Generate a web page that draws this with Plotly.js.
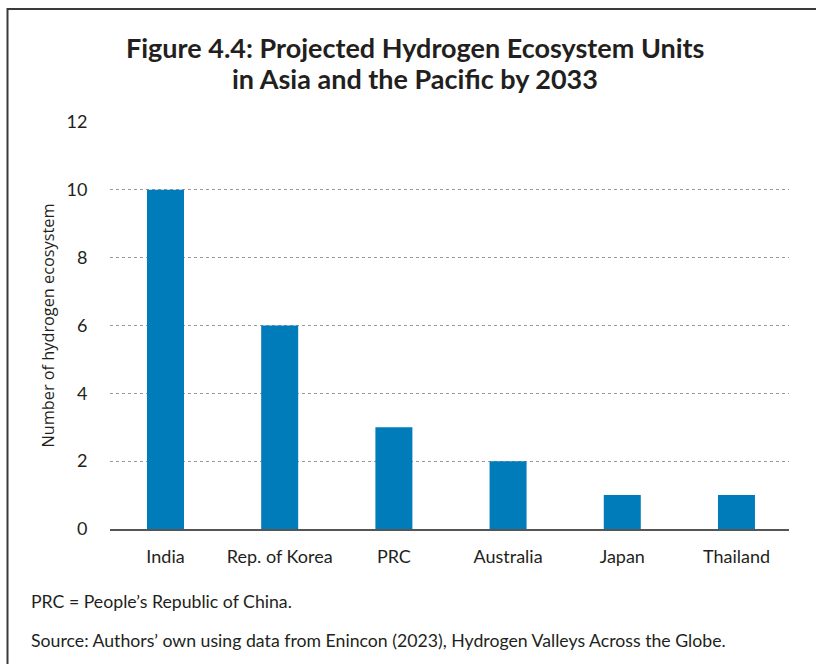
<!DOCTYPE html>
<html>
<head>
<meta charset="utf-8">
<script src="https://cdn.plot.ly/plotly-3.0.1.min.js"></script>
<style>
  html, body { margin: 0; padding: 0; background: #fff; }
  #chart { width: 816px; height: 664px; }
</style>
</head>
<body>
<div id="chart"></div>
<script>
// Projected hydrogen ecosystem units by economy, 2033
const economies = ["India", "Rep. of Korea", "PRC", "Australia", "Japan", "Thailand"];
const ecosystemUnits = [10, 6, 3, 2, 1, 1];
const yTicks = [0, 2, 4, 6, 8, 10, 12];

const titleLines = ["Figure 4.4: Projected Hydrogen Ecosystem Units", "in Asia and the Pacific by 2033"];
const yTitleText = "Number of hydrogen ecosystem";
const noteText = "PRC = People’s Republic of China.";
const sourceText = "Source: Authors’ own using data from Enincon (2023), Hydrogen Valleys Across the Globe.";

// plot area in pixels
const W = 816, H = 664;
const L = 110, R = 789, T = 122, B = 529;
const px = x => (x - L) / (R - L);
const py = y => (B - y) / (B - T);

const FONT = "Lato, 'Open Sans', sans-serif";
const BLUE = "#007cba";
const TEXT = "#231f20";

const trace = {
  type: "bar",
  x: economies,
  y: ecosystemUnits,
  width: 0.324,
  marker: { color: BLUE, line: { width: 0 } },
  hoverinfo: "x+y"
};

const textNote = (text, x, y, opts) => Object.assign({
  text, xref: "paper", yref: "paper",
  x: px(x), y: py(y),
  xanchor: "left", yanchor: "middle",
  showarrow: false,
  font: { family: FONT, size: 17.7, color: TEXT }
}, opts || {});

const layout = {
  width: W,
  height: H,
  margin: { l: L, r: W - R, t: T, b: H - B, pad: 0 },
  paper_bgcolor: "#ffffff",
  plot_bgcolor: "#ffffff",
  showlegend: false,
  font: { family: FONT, color: TEXT, size: 18 },
  xaxis: {
    type: "category",
    range: [-0.486, 5.46],
    showgrid: false,
    showline: true,
    linecolor: "#555555",
    linewidth: 1.5,
    ticks: "outside",
    ticklen: 11,
    tickcolor: "rgba(0,0,0,0)",
    tickfont: { family: FONT, size: 18, color: TEXT },
    fixedrange: true
  },
  yaxis: {
    range: [0, 12],
    tickvals: yTicks,
    ticktext: yTicks.map(String),
    showgrid: true,
    gridcolor: "#9a9a9a",
    griddash: "dot",
    gridwidth: 1,
    zeroline: false,
    showline: false,
    ticks: "outside",
    ticklen: 18,
    tickcolor: "rgba(0,0,0,0)",
    tickfont: { family: FONT, size: 18, color: TEXT },
    fixedrange: true
  },
  annotations: [
    textNote(titleLines[0], 415, 47, { xanchor: "center", font: { family: FONT, size: 27, color: TEXT, weight: 700 } }),
    textNote(titleLines[1], 415, 78, { xanchor: "center", font: { family: FONT, size: 27, color: TEXT, weight: 700 } }),
    textNote(yTitleText, 47, 325.5, {
      xanchor: "center", textangle: -90,
      font: { family: "'Open Sans', sans-serif", size: 16.3, color: TEXT }
    }),
    textNote(noteText, 29, 601),
    textNote(sourceText, 29, 640)
  ],
  shapes: [
    // frame: left and top edges
    {
      type: "path",
      xref: "paper", yref: "paper",
      path: `M ${px(7.5)} ${py(664)} L ${px(7.5)} ${py(9)} L ${px(816)} ${py(9)}`,
      line: { color: "#3a3a3a", width: 2 }
    }
  ]
};

Plotly.newPlot("chart", [trace], layout, { displayModeBar: false, staticPlot: true });
</script>
</body>
</html>
